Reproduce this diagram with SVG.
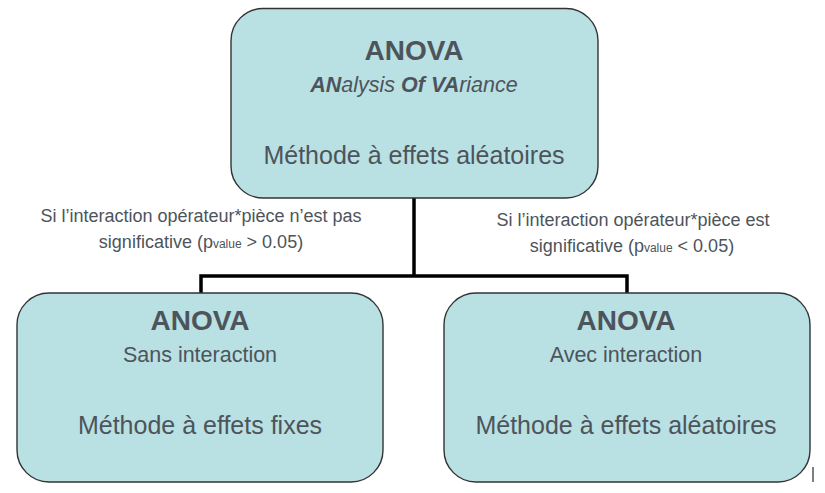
<svg xmlns="http://www.w3.org/2000/svg" width="825" height="493" viewBox="0 0 825 493">
<style>
.box{fill:#b9e0e3;stroke:#333;stroke-width:1.4}
text{font-family:"Liberation Sans",Arial,sans-serif;fill:#4d545b;text-anchor:middle}
.t{font-size:28px;font-weight:bold}
.s{font-size:21.5px}
.m{font-size:25px}
.l{font-size:18px}
.sub{font-size:12px}
.c{fill:none;stroke:#000;stroke-width:3.5}
</style>
<rect width="825" height="493" fill="#fff"/>
<g id="connectors">
<path class="c" d="M414 198 V276 M201 276 H628 M201 274.25 V293 M627 274.25 V293"/>
</g>
<g id="top">
<rect class="box" x="231" y="8.5" width="367" height="189.5" rx="32"/>
<text class="t" x="414" y="60">ANOVA</text>
<text class="s" x="414" y="92" font-style="italic"><tspan font-weight="bold">AN</tspan>alysis <tspan font-weight="bold">Of VA</tspan>riance</text>
<text class="m" x="414" y="164">Méthode à effets aléatoires</text>
</g>
<g id="label-left">
<text class="l" x="201" y="222">Si l’interaction opérateur*pièce n’est pas</text>
<text class="l" x="201" y="248">significative (p<tspan class="sub">value</tspan> &gt; 0.05)</text>
</g>
<g id="label-right">
<text class="l" x="633" y="226">Si l’interaction opérateur*pièce est</text>
<text class="l" x="632" y="252">significative (p<tspan class="sub">value</tspan> &lt; 0.05)</text>
</g>
<g id="left">
<rect class="box" x="17" y="293" width="366" height="189" rx="32"/>
<text class="t" x="200" y="330">ANOVA</text>
<text class="s" x="200" y="362">Sans interaction</text>
<text class="m" x="200" y="434">Méthode à effets fixes</text>
</g>
<g id="right">
<rect class="box" x="444" y="293" width="366" height="189" rx="32"/>
<text class="t" x="626" y="330">ANOVA</text>
<text class="s" x="626" y="362">Avec interaction</text>
<text class="m" x="626" y="434">Méthode à effets aléatoires</text>
</g>
<line x1="813" y1="467" x2="813" y2="482" stroke="#000" stroke-width="1"/>
</svg>
